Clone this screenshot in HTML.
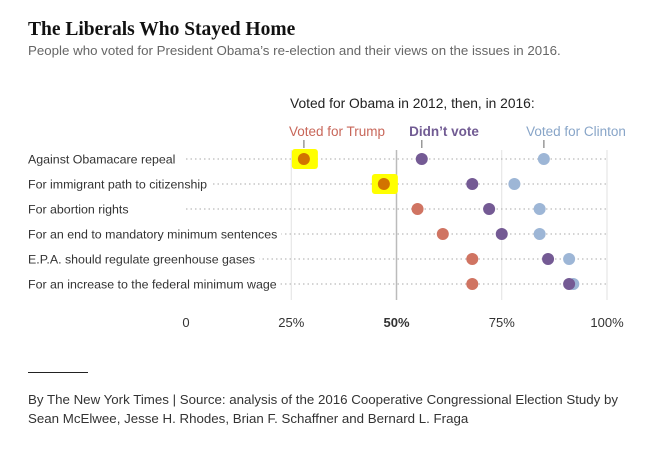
<!DOCTYPE html>
<html><head><meta charset="utf-8"><style>
body{margin:0;width:669px;height:458px;background:#fff;font-family:"Liberation Sans",sans-serif;position:relative;overflow:hidden}
.a{position:absolute;white-space:nowrap}
</style></head><body>
<div class="a" style="left:28px;top:19px;font-family:'Liberation Serif',serif;font-weight:bold;font-size:19.5px;color:#111">The Liberals Who Stayed Home</div>
<div class="a" style="left:28px;top:43px;font-size:13.3px;color:#666">People who voted for President Obama’s re-election and their views on the issues in 2016.</div>
<svg id="chart" width="669" height="340" style="position:absolute;left:0;top:0;font-family:'Liberation Sans',sans-serif"></svg>
<div class="a" style="left:28px;top:372px;width:60px;height:1px;background:#222"></div>
<div class="a" style="left:28px;top:390px;font-size:13.3px;color:#333;line-height:19px">By The New York Times | Source: analysis of the 2016 Cooperative Congressional Election Study by<br>Sean McElwee, Jesse H. Rhodes, Brian F. Schaffner and Bernard L. Fraga</div>
<script>
const categories=["Against Obamacare repeal","For immigrant path to citizenship","For abortion rights","For an end to mandatory minimum sentences","E.P.A. should regulate greenhouse gases","For an increase to the federal minimum wage"];
const trump=[28,47,55,61,68,68];
const didnt=[56,68,72,75,86,91];
const clinton=[85,78,84,84,91,92];
const ticks=[0,25,50,75,100];
const tickLabels=["0","25%","50%","75%","100%"];
const highlighted=[0,1];
const svg=document.getElementById('chart');const NS='http://www.w3.org/2000/svg';
const x=v=>186+v*4.21;const y=i=>159+i*25;
function mk(t,a,txt){const e=document.createElementNS(NS,t);for(const k in a)e.setAttribute(k,a[k]);if(txt!==undefined)e.textContent=txt;svg.appendChild(e);return e;}
ticks.forEach((t,i)=>{
 if(t>0){
 const g=mk('line',{x1:x(t),x2:x(t),y1:150,y2:300,stroke:t===50?'#bbb':'#e2e2e2','stroke-width':t===50?1.5:1});
 
 
 }
 const l=mk('text',{x:x(t),y:327,'text-anchor':'middle','font-size':13,fill:'#333','font-weight':t===50?'bold':'normal'},tickLabels[i]);
 
 
});
const h=mk('text',{x:290,y:108,'font-size':13.8,fill:'#222'},'Voted for Obama in 2012, then, in 2016:');


[[trump,'#c8675a','Voted for Trump','normal',337],[didnt,'#715b93',"Didn’t vote",'bold',444],[clinton,'#88a5c8','Voted for Clinton','normal',576]].forEach(([s,c,n,w,lx])=>{
 const t=mk('text',{x:lx,y:136,'text-anchor':'middle','font-size':13.5,fill:c,'font-weight':w},n);
 
 
 const m=mk('line',{x1:x(s[0]),x2:x(s[0]),y1:140,y2:148,stroke:'#999','stroke-width':1.5});
 
 
});
categories.forEach((c,i)=>{
 const r=mk('line',{x1:186,x2:607,y1:y(i),y2:y(i),stroke:'#aaa','stroke-dasharray':'1.5,3'});
 
 
 const bg=mk('rect',{x:28,y:y(i)-8,width:0,height:16,fill:'#fff'});
 const l=mk('text',{x:28,y:y(i)+4.5,'font-size':12.4,fill:'#333'},c);
 
 
 bg.setAttribute('width',l.getComputedTextLength()+4);
});
highlighted.forEach(i=>{
 const hl=mk('rect',{x:x(trump[i])-12,y:y(i)-10,width:26,height:20,fill:'#ffff00',rx:3});
 
 
});
[[clinton,'#9db6d6','clinton-dot'],[trump,'#d07462','trump-dot'],[didnt,'#745a94','didnt-vote-dot']].forEach(([s,c,n])=>{
 s.forEach((v,i)=>{
  const col=(n==='trump-dot'&&highlighted.includes(i))?'#d27300':c;
  const d=mk('circle',{cx:x(v),cy:y(i),r:6,fill:col});
  
  
 });
});
</script>
</body></html>
